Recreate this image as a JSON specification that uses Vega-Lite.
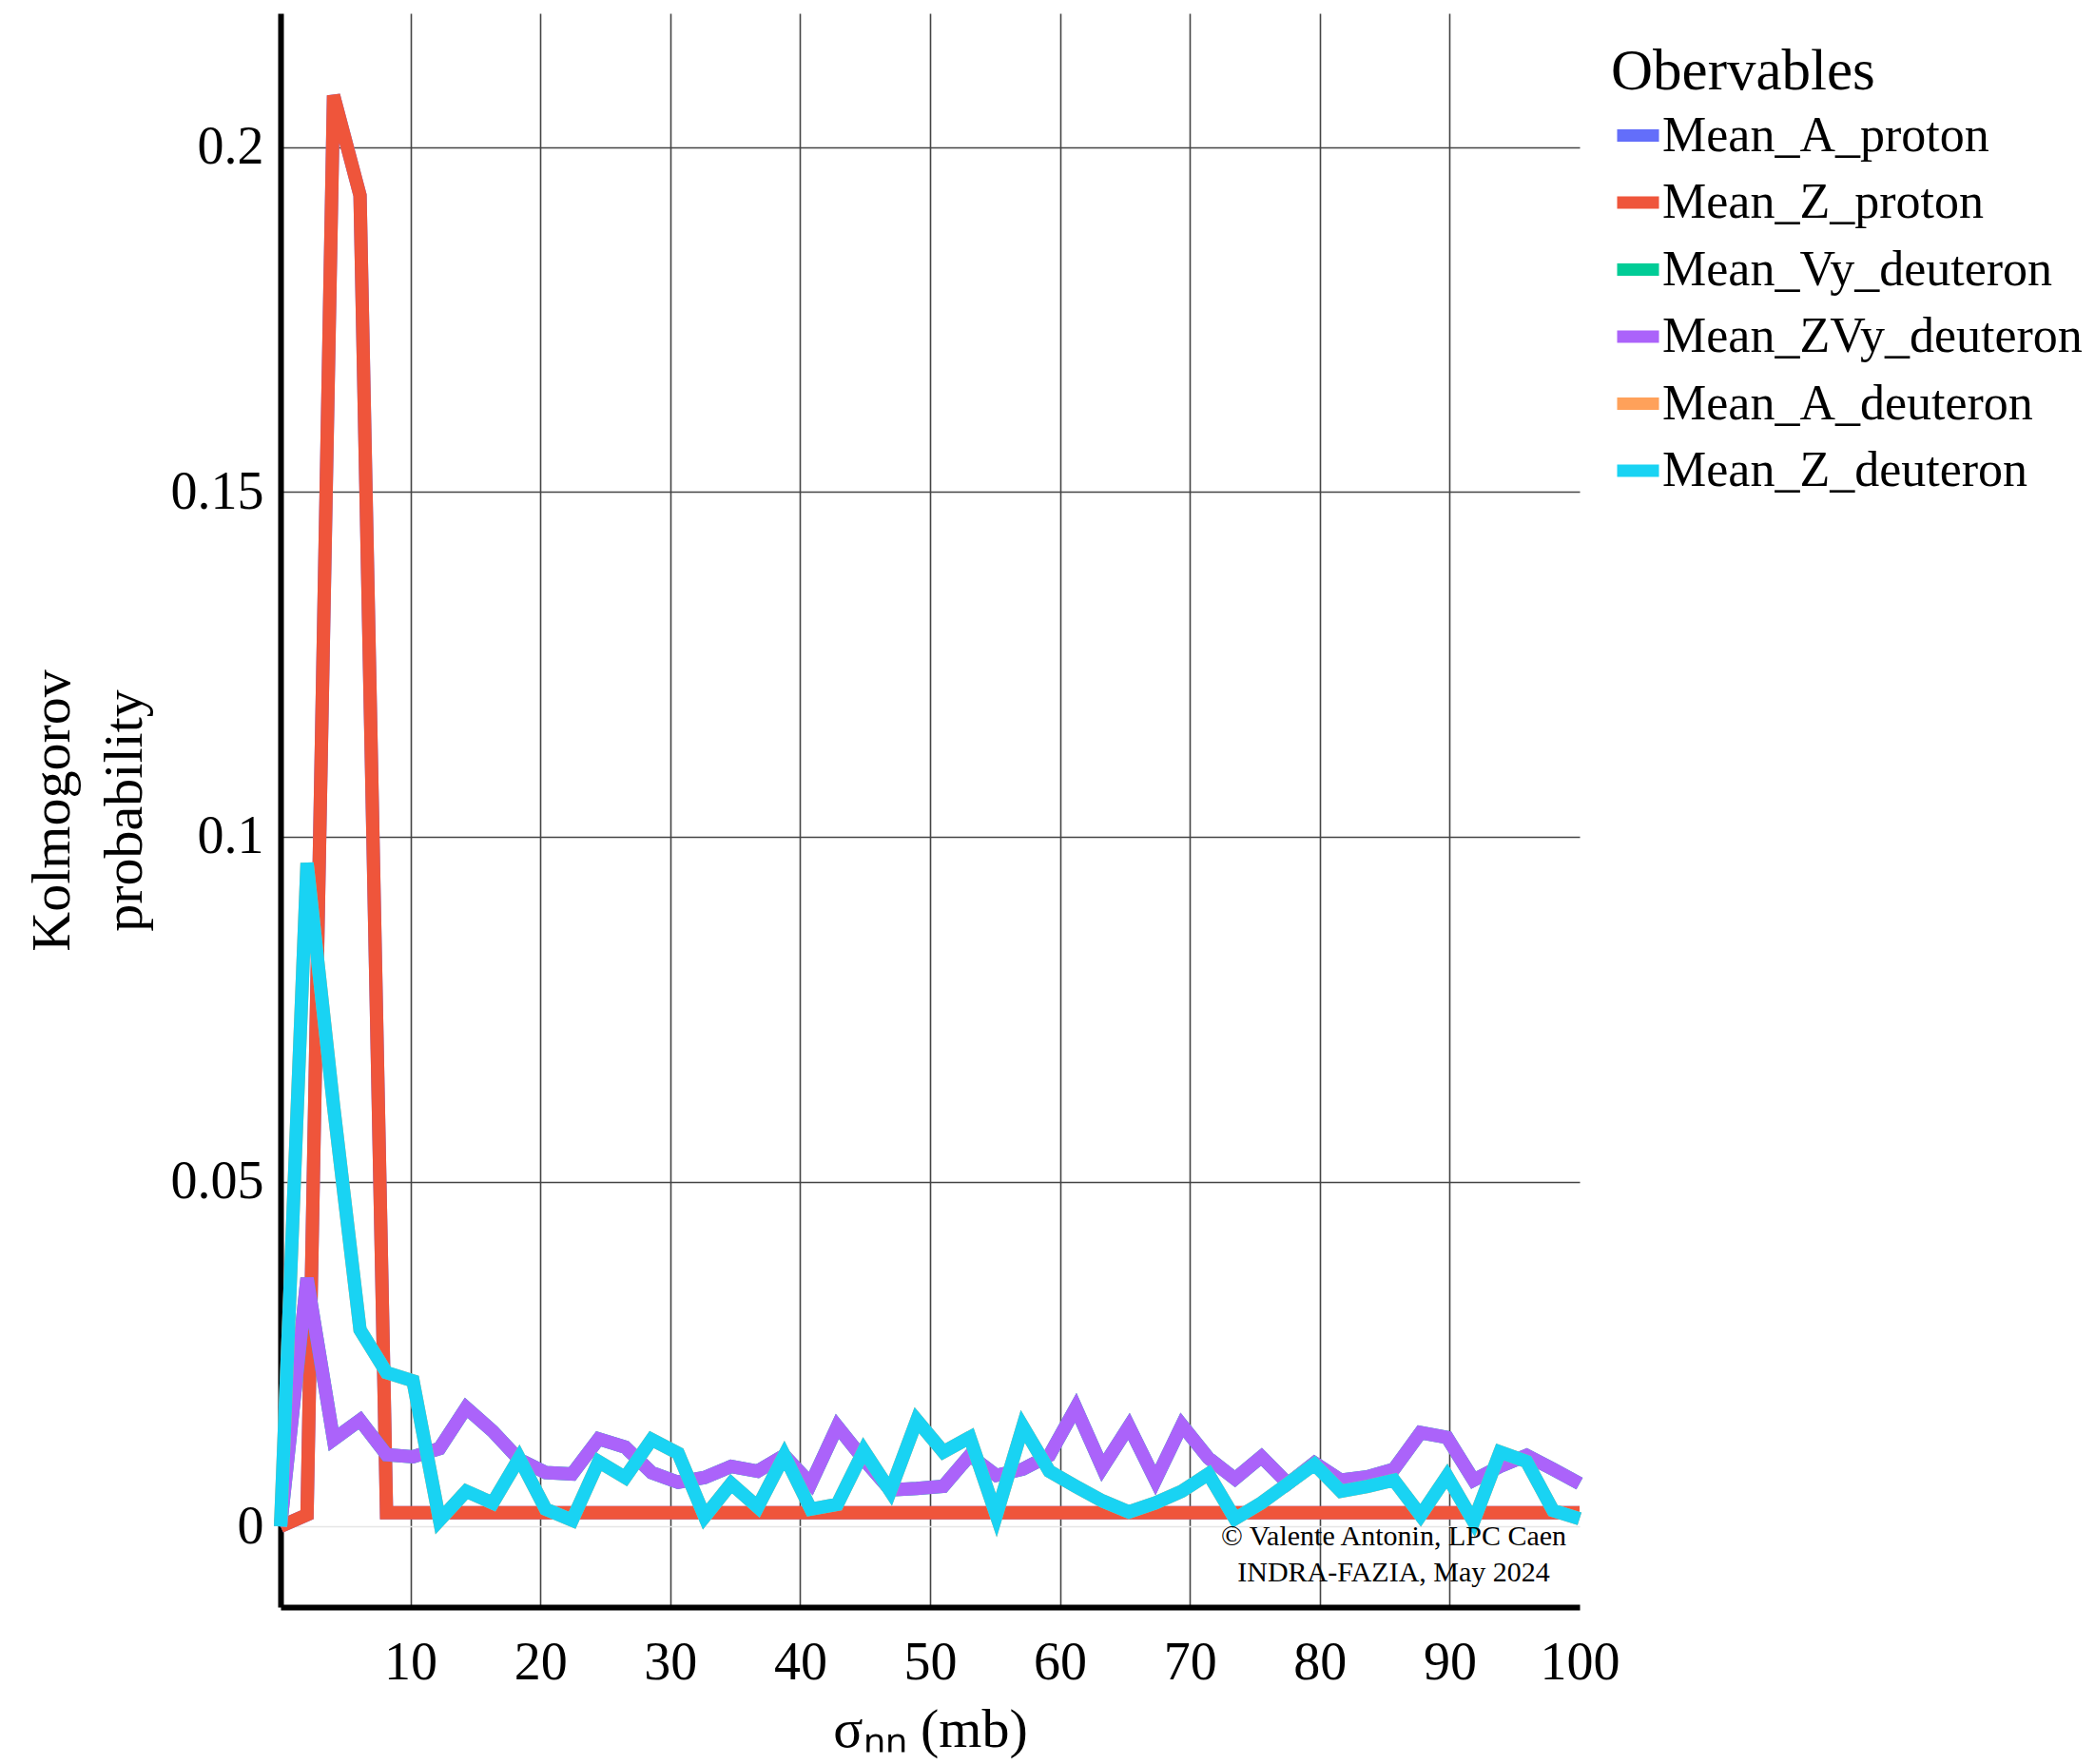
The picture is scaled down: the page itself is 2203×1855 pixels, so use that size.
{
  "$schema": "https://vega.github.io/schema/vega-lite/v6.json",
  "width": 1366,
  "height": 1676,
  "autosize": {"type": "none"},
  "padding": {"left": 295, "top": 14, "right": 542, "bottom": 165},
  "background": "white",
  "config": {
    "view": {"stroke": null},
    "font": "Liberation Serif",
    "text": {"font": "Liberation Serif"}
  },
  "data": {"values": [
    {"x": 0, "Mean_A_proton": 0, "Mean_Z_proton": 0, "Mean_Vy_deuteron": 0, "Mean_ZVy_deuteron": 0, "Mean_A_deuteron": 0, "Mean_Z_deuteron": 0},
    {"x": 2.04, "Mean_A_proton": 0.0017, "Mean_Z_proton": 0.0017, "Mean_Vy_deuteron": 0.036, "Mean_ZVy_deuteron": 0.036, "Mean_A_deuteron": 0.0962, "Mean_Z_deuteron": 0.0962},
    {"x": 4.08, "Mean_A_proton": 0.2075, "Mean_Z_proton": 0.2075, "Mean_Vy_deuteron": 0.0126, "Mean_ZVy_deuteron": 0.0126, "Mean_A_deuteron": 0.061, "Mean_Z_deuteron": 0.061},
    {"x": 6.12, "Mean_A_proton": 0.193, "Mean_Z_proton": 0.193, "Mean_Vy_deuteron": 0.0154, "Mean_ZVy_deuteron": 0.0154, "Mean_A_deuteron": 0.0285, "Mean_Z_deuteron": 0.0285},
    {"x": 8.16, "Mean_A_proton": 0.002, "Mean_Z_proton": 0.002, "Mean_Vy_deuteron": 0.0104, "Mean_ZVy_deuteron": 0.0104, "Mean_A_deuteron": 0.0223, "Mean_Z_deuteron": 0.0223},
    {"x": 10.2, "Mean_A_proton": 0.002, "Mean_Z_proton": 0.002, "Mean_Vy_deuteron": 0.0101, "Mean_ZVy_deuteron": 0.0101, "Mean_A_deuteron": 0.0211, "Mean_Z_deuteron": 0.0211},
    {"x": 12.24, "Mean_A_proton": 0.002, "Mean_Z_proton": 0.002, "Mean_Vy_deuteron": 0.0113, "Mean_ZVy_deuteron": 0.0113, "Mean_A_deuteron": 0.0009, "Mean_Z_deuteron": 0.0009},
    {"x": 14.29, "Mean_A_proton": 0.002, "Mean_Z_proton": 0.002, "Mean_Vy_deuteron": 0.0172, "Mean_ZVy_deuteron": 0.0172, "Mean_A_deuteron": 0.0051, "Mean_Z_deuteron": 0.0051},
    {"x": 16.33, "Mean_A_proton": 0.002, "Mean_Z_proton": 0.002, "Mean_Vy_deuteron": 0.0138, "Mean_ZVy_deuteron": 0.0138, "Mean_A_deuteron": 0.0034, "Mean_Z_deuteron": 0.0034},
    {"x": 18.37, "Mean_A_proton": 0.002, "Mean_Z_proton": 0.002, "Mean_Vy_deuteron": 0.0097, "Mean_ZVy_deuteron": 0.0097, "Mean_A_deuteron": 0.0099, "Mean_Z_deuteron": 0.0099},
    {"x": 20.41, "Mean_A_proton": 0.002, "Mean_Z_proton": 0.002, "Mean_Vy_deuteron": 0.0078, "Mean_ZVy_deuteron": 0.0078, "Mean_A_deuteron": 0.0025, "Mean_Z_deuteron": 0.0025},
    {"x": 22.45, "Mean_A_proton": 0.002, "Mean_Z_proton": 0.002, "Mean_Vy_deuteron": 0.0076, "Mean_ZVy_deuteron": 0.0076, "Mean_A_deuteron": 0.0009, "Mean_Z_deuteron": 0.0009},
    {"x": 24.49, "Mean_A_proton": 0.002, "Mean_Z_proton": 0.002, "Mean_Vy_deuteron": 0.0127, "Mean_ZVy_deuteron": 0.0127, "Mean_A_deuteron": 0.0094, "Mean_Z_deuteron": 0.0094},
    {"x": 26.53, "Mean_A_proton": 0.002, "Mean_Z_proton": 0.002, "Mean_Vy_deuteron": 0.0115, "Mean_ZVy_deuteron": 0.0115, "Mean_A_deuteron": 0.0071, "Mean_Z_deuteron": 0.0071},
    {"x": 28.57, "Mean_A_proton": 0.002, "Mean_Z_proton": 0.002, "Mean_Vy_deuteron": 0.0078, "Mean_ZVy_deuteron": 0.0078, "Mean_A_deuteron": 0.0126, "Mean_Z_deuteron": 0.0126},
    {"x": 30.61, "Mean_A_proton": 0.002, "Mean_Z_proton": 0.002, "Mean_Vy_deuteron": 0.0064, "Mean_ZVy_deuteron": 0.0064, "Mean_A_deuteron": 0.0106, "Mean_Z_deuteron": 0.0106},
    {"x": 32.65, "Mean_A_proton": 0.002, "Mean_Z_proton": 0.002, "Mean_Vy_deuteron": 0.0071, "Mean_ZVy_deuteron": 0.0071, "Mean_A_deuteron": 0.0014, "Mean_Z_deuteron": 0.0014},
    {"x": 34.69, "Mean_A_proton": 0.002, "Mean_Z_proton": 0.002, "Mean_Vy_deuteron": 0.0087, "Mean_ZVy_deuteron": 0.0087, "Mean_A_deuteron": 0.0062, "Mean_Z_deuteron": 0.0062},
    {"x": 36.73, "Mean_A_proton": 0.002, "Mean_Z_proton": 0.002, "Mean_Vy_deuteron": 0.008, "Mean_ZVy_deuteron": 0.008, "Mean_A_deuteron": 0.0028, "Mean_Z_deuteron": 0.0028},
    {"x": 38.78, "Mean_A_proton": 0.002, "Mean_Z_proton": 0.002, "Mean_Vy_deuteron": 0.0103, "Mean_ZVy_deuteron": 0.0103, "Mean_A_deuteron": 0.0103, "Mean_Z_deuteron": 0.0103},
    {"x": 40.82, "Mean_A_proton": 0.002, "Mean_Z_proton": 0.002, "Mean_Vy_deuteron": 0.0062, "Mean_ZVy_deuteron": 0.0062, "Mean_A_deuteron": 0.0025, "Mean_Z_deuteron": 0.0025},
    {"x": 42.86, "Mean_A_proton": 0.002, "Mean_Z_proton": 0.002, "Mean_Vy_deuteron": 0.0145, "Mean_ZVy_deuteron": 0.0145, "Mean_A_deuteron": 0.0032, "Mean_Z_deuteron": 0.0032},
    {"x": 44.9, "Mean_A_proton": 0.002, "Mean_Z_proton": 0.002, "Mean_Vy_deuteron": 0.0097, "Mean_ZVy_deuteron": 0.0097, "Mean_A_deuteron": 0.011, "Mean_Z_deuteron": 0.011},
    {"x": 46.94, "Mean_A_proton": 0.002, "Mean_Z_proton": 0.002, "Mean_Vy_deuteron": 0.0053, "Mean_ZVy_deuteron": 0.0053, "Mean_A_deuteron": 0.0051, "Mean_Z_deuteron": 0.0051},
    {"x": 48.98, "Mean_A_proton": 0.002, "Mean_Z_proton": 0.002, "Mean_Vy_deuteron": 0.0055, "Mean_ZVy_deuteron": 0.0055, "Mean_A_deuteron": 0.0154, "Mean_Z_deuteron": 0.0154},
    {"x": 51.02, "Mean_A_proton": 0.002, "Mean_Z_proton": 0.002, "Mean_Vy_deuteron": 0.0058, "Mean_ZVy_deuteron": 0.0058, "Mean_A_deuteron": 0.0108, "Mean_Z_deuteron": 0.0108},
    {"x": 53.06, "Mean_A_proton": 0.002, "Mean_Z_proton": 0.002, "Mean_Vy_deuteron": 0.0103, "Mean_ZVy_deuteron": 0.0103, "Mean_A_deuteron": 0.0129, "Mean_Z_deuteron": 0.0129},
    {"x": 55.1, "Mean_A_proton": 0.002, "Mean_Z_proton": 0.002, "Mean_Vy_deuteron": 0.0074, "Mean_ZVy_deuteron": 0.0074, "Mean_A_deuteron": 0.0016, "Mean_Z_deuteron": 0.0016},
    {"x": 57.14, "Mean_A_proton": 0.002, "Mean_Z_proton": 0.002, "Mean_Vy_deuteron": 0.0083, "Mean_ZVy_deuteron": 0.0083, "Mean_A_deuteron": 0.0145, "Mean_Z_deuteron": 0.0145},
    {"x": 59.18, "Mean_A_proton": 0.002, "Mean_Z_proton": 0.002, "Mean_Vy_deuteron": 0.0103, "Mean_ZVy_deuteron": 0.0103, "Mean_A_deuteron": 0.008, "Mean_Z_deuteron": 0.008},
    {"x": 61.22, "Mean_A_proton": 0.002, "Mean_Z_proton": 0.002, "Mean_Vy_deuteron": 0.0172, "Mean_ZVy_deuteron": 0.0172, "Mean_A_deuteron": 0.0058, "Mean_Z_deuteron": 0.0058},
    {"x": 63.27, "Mean_A_proton": 0.002, "Mean_Z_proton": 0.002, "Mean_Vy_deuteron": 0.0085, "Mean_ZVy_deuteron": 0.0085, "Mean_A_deuteron": 0.0037, "Mean_Z_deuteron": 0.0037},
    {"x": 65.31, "Mean_A_proton": 0.002, "Mean_Z_proton": 0.002, "Mean_Vy_deuteron": 0.0145, "Mean_ZVy_deuteron": 0.0145, "Mean_A_deuteron": 0.0021, "Mean_Z_deuteron": 0.0021},
    {"x": 67.35, "Mean_A_proton": 0.002, "Mean_Z_proton": 0.002, "Mean_Vy_deuteron": 0.0067, "Mean_ZVy_deuteron": 0.0067, "Mean_A_deuteron": 0.0034, "Mean_Z_deuteron": 0.0034},
    {"x": 69.39, "Mean_A_proton": 0.002, "Mean_Z_proton": 0.002, "Mean_Vy_deuteron": 0.0147, "Mean_ZVy_deuteron": 0.0147, "Mean_A_deuteron": 0.0051, "Mean_Z_deuteron": 0.0051},
    {"x": 71.43, "Mean_A_proton": 0.002, "Mean_Z_proton": 0.002, "Mean_Vy_deuteron": 0.0099, "Mean_ZVy_deuteron": 0.0099, "Mean_A_deuteron": 0.0076, "Mean_Z_deuteron": 0.0076},
    {"x": 73.47, "Mean_A_proton": 0.002, "Mean_Z_proton": 0.002, "Mean_Vy_deuteron": 0.0069, "Mean_ZVy_deuteron": 0.0069, "Mean_A_deuteron": 0.0011, "Mean_Z_deuteron": 0.0011},
    {"x": 75.51, "Mean_A_proton": 0.002, "Mean_Z_proton": 0.002, "Mean_Vy_deuteron": 0.0101, "Mean_ZVy_deuteron": 0.0101, "Mean_A_deuteron": 0.0034, "Mean_Z_deuteron": 0.0034},
    {"x": 77.55, "Mean_A_proton": 0.002, "Mean_Z_proton": 0.002, "Mean_Vy_deuteron": 0.0062, "Mean_ZVy_deuteron": 0.0062, "Mean_A_deuteron": 0.0062, "Mean_Z_deuteron": 0.0062},
    {"x": 79.59, "Mean_A_proton": 0.002, "Mean_Z_proton": 0.002, "Mean_Vy_deuteron": 0.0092, "Mean_ZVy_deuteron": 0.0092, "Mean_A_deuteron": 0.009, "Mean_Z_deuteron": 0.009},
    {"x": 81.63, "Mean_A_proton": 0.002, "Mean_Z_proton": 0.002, "Mean_Vy_deuteron": 0.0067, "Mean_ZVy_deuteron": 0.0067, "Mean_A_deuteron": 0.0051, "Mean_Z_deuteron": 0.0051},
    {"x": 83.67, "Mean_A_proton": 0.002, "Mean_Z_proton": 0.002, "Mean_Vy_deuteron": 0.0072, "Mean_ZVy_deuteron": 0.0072, "Mean_A_deuteron": 0.0058, "Mean_Z_deuteron": 0.0058},
    {"x": 85.71, "Mean_A_proton": 0.002, "Mean_Z_proton": 0.002, "Mean_Vy_deuteron": 0.0083, "Mean_ZVy_deuteron": 0.0083, "Mean_A_deuteron": 0.0067, "Mean_Z_deuteron": 0.0067},
    {"x": 87.76, "Mean_A_proton": 0.002, "Mean_Z_proton": 0.002, "Mean_Vy_deuteron": 0.0136, "Mean_ZVy_deuteron": 0.0136, "Mean_A_deuteron": 0.0016, "Mean_Z_deuteron": 0.0016},
    {"x": 89.8, "Mean_A_proton": 0.002, "Mean_Z_proton": 0.002, "Mean_Vy_deuteron": 0.0129, "Mean_ZVy_deuteron": 0.0129, "Mean_A_deuteron": 0.0073, "Mean_Z_deuteron": 0.0073},
    {"x": 91.84, "Mean_A_proton": 0.002, "Mean_Z_proton": 0.002, "Mean_Vy_deuteron": 0.0067, "Mean_ZVy_deuteron": 0.0067, "Mean_A_deuteron": 0.0007, "Mean_Z_deuteron": 0.0007},
    {"x": 93.88, "Mean_A_proton": 0.002, "Mean_Z_proton": 0.002, "Mean_Vy_deuteron": 0.0087, "Mean_ZVy_deuteron": 0.0087, "Mean_A_deuteron": 0.0108, "Mean_Z_deuteron": 0.0108},
    {"x": 95.92, "Mean_A_proton": 0.002, "Mean_Z_proton": 0.002, "Mean_Vy_deuteron": 0.0103, "Mean_ZVy_deuteron": 0.0103, "Mean_A_deuteron": 0.0094, "Mean_Z_deuteron": 0.0094},
    {"x": 97.96, "Mean_A_proton": 0.002, "Mean_Z_proton": 0.002, "Mean_Vy_deuteron": 0.0083, "Mean_ZVy_deuteron": 0.0083, "Mean_A_deuteron": 0.0023, "Mean_Z_deuteron": 0.0023},
    {"x": 100, "Mean_A_proton": 0.002, "Mean_Z_proton": 0.002, "Mean_Vy_deuteron": 0.0062, "Mean_ZVy_deuteron": 0.0062, "Mean_A_deuteron": 0.0011, "Mean_Z_deuteron": 0.0011}
  ]},
  "layer": [
    {
      "encoding": {
        "x": {
          "field": "x", "type": "quantitative",
          "scale": {"domain": [0, 100], "nice": false, "zero": false},
          "axis": {
            "values": [10, 20, 30, 40, 50, 60, 70, 80, 90, 100],
            "title": "σₙₙ (mb)",
            "grid": true,
            "gridColor": "#444444",
            "gridWidth": 1.6,
            "gridOpacity": {"condition": {"test": "datum.value === 100", "value": 0}, "value": 1},
            "domainColor": "black",
            "domainWidth": 6,
            "ticks": false,
            "tickSize": 0,
            "labelFont": "Liberation Serif",
            "labelFontSize": 56,
            "labelColor": "black",
            "labelBaseline": "alphabetic",
            "labelPadding": 75,
            "labelFlush": false,
            "labelOverlap": false,
            "titleFont": "Liberation Serif",
            "titleFontSize": 58,
            "titleFontWeight": "normal",
            "titleColor": "black",
            "titleAlign": "center",
            "titleBaseline": "alphabetic",
            "titleX": 683,
            "titleY": 146
          }
        },
        "y": {
          "field": "value", "type": "quantitative",
          "scale": {"domain": [-0.0117, 0.2194], "nice": false, "zero": false},
          "axis": {
            "values": [0, 0.05, 0.1, 0.15, 0.2],
            "format": "~g",
            "title": ["Kolmogorov", "probability"],
            "grid": true,
            "gridColor": {"condition": {"test": "datum.value === 0", "value": "#e6e6e6"}, "value": "#444444"},
            "gridWidth": 1.6,
            "domainColor": "black",
            "domainWidth": 6,
            "ticks": false,
            "tickSize": 0,
            "labelFont": "Liberation Serif",
            "labelFontSize": 56,
            "labelColor": "black",
            "labelBaseline": "middle",
            "labelPadding": 18,
            "labelOverlap": false,
            "titleFont": "Liberation Serif",
            "titleFontSize": 58,
            "titleFontWeight": "normal",
            "titleColor": "black",
            "titleAngle": 270,
            "titleAlign": "center",
            "titleBaseline": "alphabetic",
            "titleLineHeight": 76,
            "titleX": -223,
            "titleY": 838
          }
        },
        "color": {
          "field": "key", "type": "nominal",
          "scale": {
            "domain": ["Mean_A_proton", "Mean_Z_proton", "Mean_Vy_deuteron", "Mean_ZVy_deuteron", "Mean_A_deuteron", "Mean_Z_deuteron"],
            "range": ["#636efa", "#EF553B", "#00cc96", "#ab63fa", "#FFA15A", "#19d3f3"]
          },
          "legend": {
            "title": "Obervables",
            "orient": "none",
            "legendX": 1399,
            "legendY": 32,
            "padding": 0,
            "titleFont": "Liberation Serif",
            "titleFontSize": 61,
            "titleFontWeight": "normal",
            "titleColor": "black",
            "titleLimit": 0,
            "titlePadding": 7,
            "labelFont": "Liberation Serif",
            "labelFontSize": 52,
            "labelColor": "black",
            "labelOffset": -3,
            "labelLimit": 0,
            "symbolType": "stroke",
            "symbolSize": 1936,
            "symbolStrokeWidth": 13,
            "rowPadding": 15.5
          }
        }
      },
      "layer": [
        {"transform": [{"fold": ["Mean_A_proton"], "as": ["key", "value"]}], "mark": {"type": "line", "strokeWidth": 14}},
        {"transform": [{"fold": ["Mean_Z_proton"], "as": ["key", "value"]}], "mark": {"type": "line", "strokeWidth": 14}},
        {"transform": [{"fold": ["Mean_Vy_deuteron"], "as": ["key", "value"]}], "mark": {"type": "line", "strokeWidth": 14}},
        {"transform": [{"fold": ["Mean_ZVy_deuteron"], "as": ["key", "value"]}], "mark": {"type": "line", "strokeWidth": 14}},
        {"transform": [{"fold": ["Mean_A_deuteron"], "as": ["key", "value"]}], "mark": {"type": "line", "strokeWidth": 14}},
        {"transform": [{"fold": ["Mean_Z_deuteron"], "as": ["key", "value"]}], "mark": {"type": "line", "strokeWidth": 14}}
      ]
    },
    {
      "data": {"values": [{"note": ["© Valente Antonin, LPC Caen", "INDRA-FAZIA, May 2024"]}]},
      "mark": {"type": "text", "font": "Liberation Serif", "fontSize": 30, "align": "center", "baseline": "alphabetic", "lineHeight": 38, "color": "black"},
      "encoding": {
        "x": {"datum": 85.69, "type": "quantitative"},
        "y": {"datum": -0.00275, "type": "quantitative"},
        "text": {"field": "note"}
      }
    }
  ]
}
